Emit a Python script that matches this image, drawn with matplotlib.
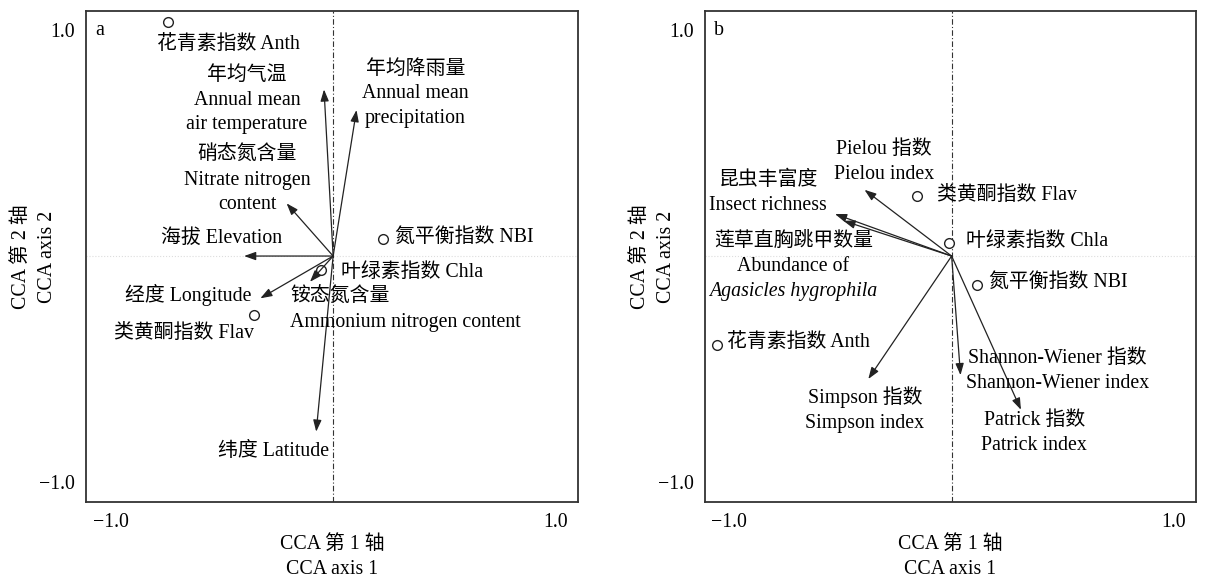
import matplotlib
matplotlib.use("Agg")
import matplotlib.pyplot as plt

plt.rcParams['font.family'] = ['Liberation Serif', 'Noto Sans CJK SC']
plt.rcParams['font.size'] = 14.3

# ---- panel a: environmental vectors and leaf indices ----
a_arrow_x = [-0.041, 0.105, -0.209, -0.40, -0.327, -0.104, -0.076]
a_arrow_y = [0.737, 0.646, 0.233, 0.0, -0.187, -0.114, -0.777]
a_arrow_labels = ["年均气温\nAnnual mean\nair temperature",
                  "年均降雨量\nAnnual mean\nprecipitation",
                  "硝态氮含量\nNitrate nitrogen\ncontent",
                  "海拔 Elevation",
                  "经度 Longitude",
                  "铵态氮含量\nAmmonium nitrogen content",
                  "纬度 Latitude"]
a_arrow_lx = [-0.387, 0.369, -0.387, -0.50, -0.653, -0.194, -0.266]
a_arrow_ly = [0.690, 0.717, 0.336, 0.080, -0.173, -0.239, -0.863]
a_arrow_ha = ['center', 'center', 'center', 'center', 'center', 'left', 'center']

a_pt_x = [-0.743, 0.226, -0.055, -0.356]
a_pt_y = [1.035, 0.074, -0.062, -0.261]
a_pt_labels = ["花青素指数 Anth", "氮平衡指数 NBI", "叶绿素指数 Chla", "类黄酮指数 Flav"]
a_pt_lx = [-0.470, 0.277, 0.036, -0.671]
a_pt_ly = [0.934, 0.084, -0.071, -0.341]
a_pt_ha = ['center', 'left', 'left', 'center']

# ---- panel b: insect community vectors and leaf indices ----
b_arrow_x = [-0.392, -0.525, -0.487, -0.375, 0.040, 0.312]
b_arrow_y = [0.293, 0.186, 0.156, -0.544, -0.527, -0.680]
b_arrow_labels = ["Pielou 指数\nPielou index",
                  "昆虫丰富度\nInsect richness",
                  "莲草直胸跳甲数量\nAbundance of",
                  "Simpson 指数\nSimpson index",
                  "Shannon-Wiener 指数\nShannon-Wiener index",
                  "Patrick 指数\nPatrick index"]
b_arrow_lx = [-0.306, -0.825, -0.713, -0.390, 0.475, 0.372]
b_arrow_ly = [0.416, 0.279, 0.011, -0.679, -0.507, -0.783]
b_species = "Agasicles hygrophila"

b_pt_x = [-0.155, -0.013, 0.112, -1.057]
b_pt_y = [0.264, 0.058, -0.128, -0.392]
b_pt_labels = ["类黄酮指数 Flav", "叶绿素指数 Chla", "氮平衡指数 NBI", "花青素指数 Anth"]
b_pt_lx = [-0.067, 0.063, 0.166, -1.009]
b_pt_ly = [0.270, 0.066, -0.115, -0.381]

fig = plt.figure(figsize=(12.08, 5.79), dpi=100)
ax_a = fig.add_axes([0.0712, 0.133, 0.4073, 0.848])
ax_b = fig.add_axes([0.5836, 0.133, 0.4065, 0.848])


def setup(ax, tag):
    ax.set_xlim(-1.11, 1.10)
    ax.set_ylim(-1.088, 1.084)
    ax.set_xticks([-1, 1], ['\u22121.0', '1.0'])
    ax.set_yticks([-1, 1], ['\u22121.0', '1.0'])
    ax.tick_params(length=0, pad=8, labelsize=14.3)
    for s in ax.spines.values():
        s.set_linewidth(1.3)
        s.set_color('#333333')
    ax.axvline(0, color='#333333', ls=(0, (5, 2, 1, 2)), lw=0.8)
    ax.axhline(0, color='#dddddd', ls=':', lw=0.8)
    ax.text(0.018, 0.961, tag, transform=ax.transAxes, ha='left', va='center')
    ax.text(0.5, -0.112, "CCA 第 1 轴\nCCA axis 1", transform=ax.transAxes,
            ha='center', va='center', linespacing=1.4)
    ax.text(-0.105, 0.5, "CCA 第 2 轴\nCCA axis 2", transform=ax.transAxes,
            ha='center', va='center', rotation=90, linespacing=1.5)


def arrows(ax, xs, ys):
    for x, y in zip(xs, ys):
        ax.annotate("", xy=(x, y), xytext=(0, 0),
                    arrowprops=dict(arrowstyle='-|>,head_length=0.7,head_width=0.25',
                                    color='#222222', lw=0.9, mutation_scale=10,
                                    shrinkA=0, shrinkB=0))


setup(ax_a, 'a')
arrows(ax_a, a_arrow_x, a_arrow_y)
for t, x, y, ha in zip(a_arrow_labels, a_arrow_lx, a_arrow_ly, a_arrow_ha):
    ax_a.text(x, y, t, ha=ha, va='center', multialignment=ha, linespacing=1.42)
ax_a.plot(a_pt_x, a_pt_y, 'o', ls='none', mfc='white', mec='#222222', ms=7, mew=1)
for t, x, y, ha in zip(a_pt_labels, a_pt_lx, a_pt_ly, a_pt_ha):
    ax_a.text(x, y, t, ha=ha, va='center')

setup(ax_b, 'b')
arrows(ax_b, b_arrow_x, b_arrow_y)
for t, x, y in zip(b_arrow_labels, b_arrow_lx, b_arrow_ly):
    ax_b.text(x, y, t, ha='center', va='center', linespacing=1.42)
ax_b.text(b_arrow_lx[2], -0.159, b_species, ha='center', va='center', style='italic')
ax_b.plot(b_pt_x, b_pt_y, 'o', ls='none', mfc='white', mec='#222222', ms=7, mew=1)
for t, x, y in zip(b_pt_labels, b_pt_lx, b_pt_ly):
    ax_b.text(x, y, t, ha='left', va='center')

fig.savefig("out.png", dpi=100)
